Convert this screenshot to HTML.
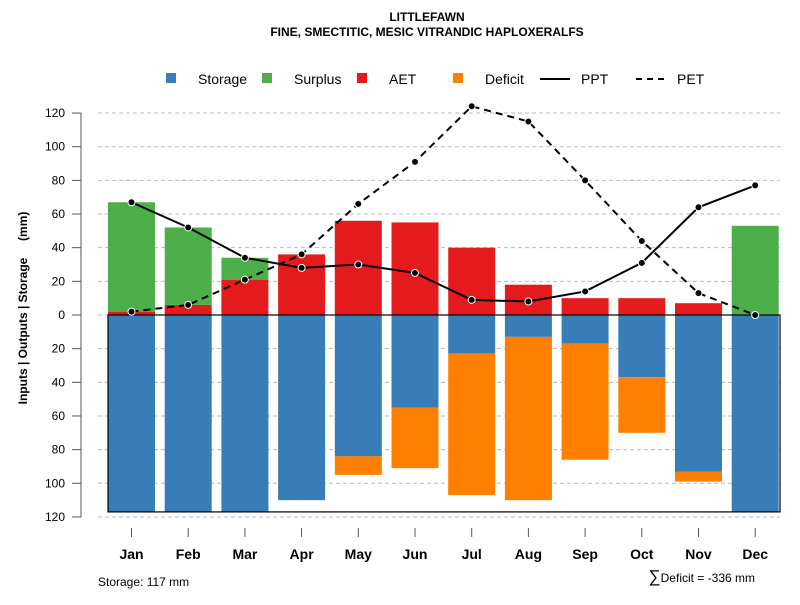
<!DOCTYPE html>
<html><head><meta charset="utf-8"><style>
body{margin:0;background:#fff}
svg text{font-family:"Liberation Sans",sans-serif}
</style></head><body>
<svg id="c" width="800" height="600" xmlns="http://www.w3.org/2000/svg">
<text x="427" y="21" text-anchor="middle" font-size="12" font-weight="bold">LITTLEFAWN</text>
<text x="427" y="36" text-anchor="middle" font-size="12" font-weight="bold">FINE, SMECTITIC, MESIC VITRANDIC HAPLOXERALFS</text>
<g id="grid"></g><g id="bars"></g><g id="lines"></g><g id="axes"></g>
<g font-size="14">
<rect x="166" y="73" width="10" height="10" fill="#377eb8"/><text x="198" y="84">Storage</text>
<rect x="262" y="73" width="10" height="10" fill="#4daf4a"/><text x="294" y="84">Surplus</text>
<rect x="357" y="73" width="10" height="10" fill="#e41a1c"/><text x="389" y="84">AET</text>
<rect x="453" y="73" width="10" height="10" fill="#ff7f00"/><text x="485" y="84">Deficit</text>
<line x1="540" y1="79" x2="570" y2="79" stroke="#000" stroke-width="2"/><text x="581" y="84">PPT</text>
<line x1="636" y1="79" x2="666" y2="79" stroke="#000" stroke-width="2" stroke-dasharray="6,5"/><text x="677" y="84">PET</text>
</g>
<text transform="translate(27,308) rotate(-90)" text-anchor="middle" font-size="12" font-weight="bold" style="white-space:pre" xml:space="preserve">Inputs | Outputs | Storage     (mm)</text>
<text x="98" y="586" font-size="12">Storage: 117 mm</text>
<text x="755" y="582" text-anchor="end" font-size="12"><tspan font-size="17">∑</tspan>Deficit = -336 mm</text>
</svg>
<script>
const months=["Jan","Feb","Mar","Apr","May","Jun","Jul","Aug","Sep","Oct","Nov","Dec"];
const aet=[2,6,21,36,56,55,40,18,10,10,7,0];
const surplus=[65,46,13,0,0,0,0,0,0,0,0,53];
const storage=[117,117,117,110,84,55,23,13,17,37,93,117];
const deficit=[0,0,0,0,11,36,84,97,69,33,6,0];
const ppt=[67,52,34,28,30,25,9,8,14,31,64,77];
const pet=[2,6,21,36,66,91,124,115,80,44,13,0];
const yTicks=[120,100,80,60,40,20,0,20,40,60,80,100,120];
const capacity=117;
const NS="http://www.w3.org/2000/svg";
const y=v=>315-v*1.683;
const x=i=>131.5+i*56.7;
const bw=47;
function mk(g,tag,at){const e=document.createElementNS(NS,tag);for(const k in at)e.setAttribute(k,at[k]);document.getElementById(g).appendChild(e);return e;}
yTicks.forEach((t,i)=>{const v=120-i*20;const yy=y(v);
 const gl=mk("grid","line",{x1:98,x2:780,y1:yy,y2:yy,stroke:"#bbb","stroke-dasharray":"4,3"});
 
 
 const tk=mk("axes","line",{x1:72,x2:81,y1:yy,y2:yy,stroke:"#555"});
 
 
 const tl=mk("axes","text",{x:65,y:yy+4,"text-anchor":"end","font-size":12});tl.textContent=t;
 
 
});
const ax=mk("axes","line",{x1:81,x2:81,y1:y(120),y2:y(-120),stroke:"#555"});


months.forEach((m,i)=>{const cx=x(i),l=cx-bw/2;
 let r=mk("bars","rect",{x:l,y:y(0),width:bw,height:y(-storage[i])-y(0),fill:"#377eb8"});
 
 
 if(deficit[i]>0){r=mk("bars","rect",{x:l,y:y(-storage[i]),width:bw,height:deficit[i]*1.683,fill:"#ff7f00"});
 
 }
 if(aet[i]>0){r=mk("bars","rect",{x:l,y:y(aet[i]),width:bw,height:aet[i]*1.683,fill:"#e41a1c"});
 
 }
 if(surplus[i]>0){r=mk("bars","rect",{x:l,y:y(aet[i]+surplus[i]),width:bw,height:surplus[i]*1.683,fill:"#4daf4a"});
 
 }
 const tk=mk("axes","line",{x1:cx,x2:cx,y1:528,y2:537,stroke:"#555"});
 
 
 const t=mk("axes","text",{x:cx,y:559,"text-anchor":"middle","font-size":14,"font-weight":"bold"});t.textContent=m;
 
 
});
const box=mk("bars","rect",{x:x(0)-bw/2,y:y(0),width:780-(x(0)-bw/2),height:capacity*1.683,fill:"none",stroke:"#000","stroke-width":1.2});


function series(vals,dash,name){const p=mk("lines","polyline",{points:vals.map((v,i)=>x(i)+","+y(v)).join(" "),fill:"none",stroke:"#000","stroke-width":2,"stroke-dasharray":dash});
 
 
 vals.forEach((v,i)=>{const c=mk("lines","circle",{cx:x(i),cy:y(v),r:3.5,fill:"#000",stroke:"#fff","stroke-width":1});
 
 });}
series(ppt,"none","ppt");
series(pet,"7,5","pet");
</script>
</body></html>
